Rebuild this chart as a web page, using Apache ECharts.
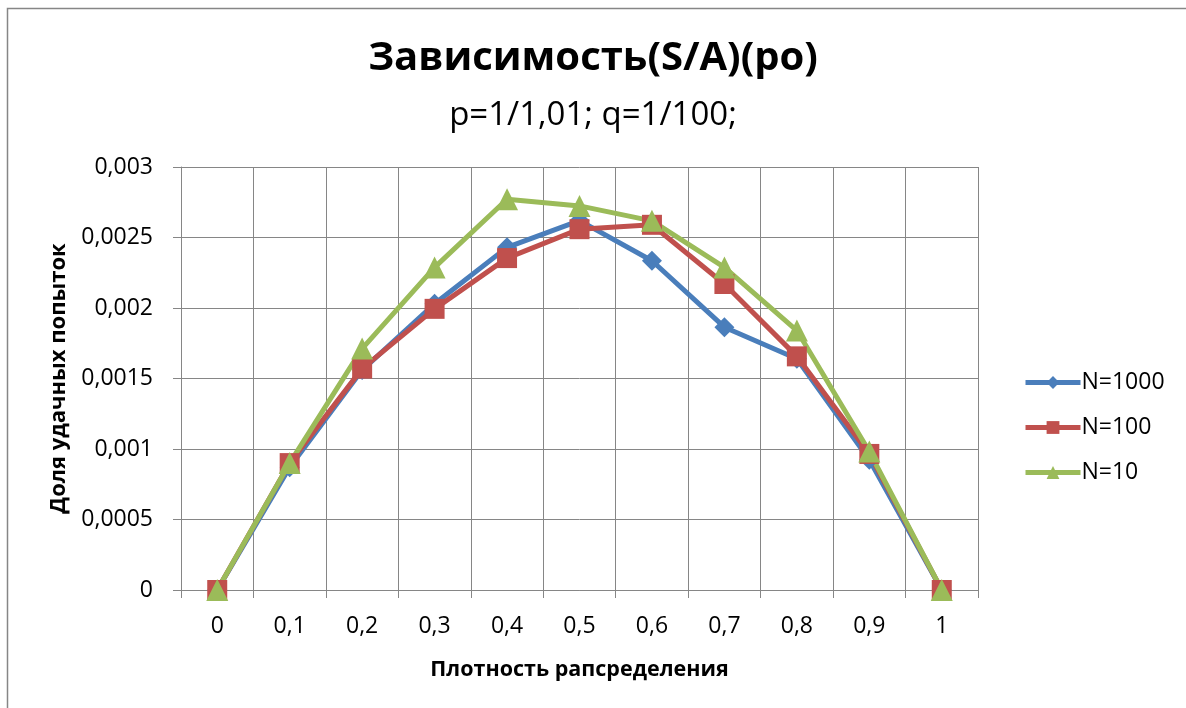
<!DOCTYPE html>
<html>
<head>
<meta charset="utf-8">
<script src="https://cdn.jsdelivr.net/npm/echarts@6/dist/echarts.min.js"></script>
<style>
html,body{margin:0;padding:0;background:#fff;}
#chart{width:1186px;height:708px;}
</style>
</head>
<body>
<div id="chart"></div>
<script>
const categories = ['0','0,1','0,2','0,3','0,4','0,5','0,6','0,7','0,8','0,9','1'];
const seriesNames = ['N=1000','N=100','N=10'];
const n1000 = [0, 0.00087, 0.00156, 0.00203, 0.00243, 0.00262, 0.002335, 0.001864, 0.00164, 0.000923, 0];
const n100  = [0, 0.0009, 0.00157, 0.001994, 0.002354, 0.002559, 0.00259, 0.00217, 0.001657, 0.000965, 0];
const n10   = [0, 0.0009, 0.001712, 0.002288, 0.002771, 0.002724, 0.002618, 0.002288, 0.00184, 0.000982, 0];
const yTicks = [0, 0.0005, 0.001, 0.0015, 0.002, 0.0025, 0.003];

const FONT = 'Open Sans';
const chart = echarts.init(document.getElementById('chart'));
function mk(name, data, color, symbol, size){
  return {
    name: name, type: 'line', data: data,
    symbol: symbol, symbolSize: size,
    lineStyle: {color: color, width: 5},
    itemStyle: {color: color},
    animation: false
  };
}
chart.setOption({
  animation: false,
  backgroundColor: '#fff',
  graphic: [{
    type: 'rect', shape: {x: 7.5, y: 8.5, width: 1300, height: 800},
    style: {fill: 'none', stroke: '#868686', lineWidth: 1.5}, silent: true, z: -10
  }],
  title: [{
    text: 'Зависимость(S/A)(ро)',
    left: 'center', top: 34,
    textStyle: {fontFamily: FONT, fontWeight: 'bold', fontSize: 40, color: '#000'}
  },{
    text: 'p=1/1,01; q=1/100;',
    left: 'center', top: 94,
    textStyle: {fontFamily: FONT, fontWeight: 'normal', fontSize: 33, color: '#000'}
  }],
  legend: {
    orient: 'vertical', left: 1018, top: 366,
    itemWidth: 55, itemHeight: 16, itemGap: 22,
    lineStyle: {width: 5},
    textStyle: {fontFamily: FONT, fontSize: 23, color: '#000', padding: [0,0,0,-4]},
    data: seriesNames
  },
  grid: {left: 181, right: 208, top: 167, bottom: 118, containLabel: false},
  xAxis: {
    type: 'category', data: categories, boundaryGap: true,
    name: 'Плотность рапсределения', nameLocation: 'middle', nameGap: 69,
    nameTextStyle: {fontFamily: FONT, fontWeight: 'bold', fontSize: 21.5, color: '#000'},
    axisLine: {lineStyle: {color: '#868686', width: 1}},
    axisTick: {show: true, length: 8, lineStyle: {color: '#868686'}},
    axisLabel: {fontFamily: FONT, fontSize: 23, color: '#000', margin: 25},
    splitLine: {show: true, lineStyle: {color: '#868686', width: 1}}
  },
  yAxis: {
    type: 'value', min: 0, max: 0.003, interval: 0.0005,
    name: 'Доля удачных попыток', nameLocation: 'middle', nameGap: 111,
    nameTextStyle: {fontFamily: FONT, fontWeight: 'bold', fontSize: 22, color: '#000'},
    axisLine: {show: true, lineStyle: {color: '#868686', width: 1}},
    axisTick: {show: true, length: 8, lineStyle: {color: '#868686'}},
    axisLabel: {fontFamily: FONT, fontSize: 23, color: '#000', margin: 28,
      formatter: v => String(+v.toFixed(4)).replace('.', ',')},
    splitLine: {show: true, lineStyle: {color: '#868686', width: 1}}
  },
  series: [
    mk(seriesNames[0], n1000, '#4A7EBB', 'diamond', 20),
    mk(seriesNames[1], n100, '#C0504D', 'rect', 20),
    mk(seriesNames[2], n10, '#9BBB59', 'triangle', 22)
  ]
});
</script>
</body>
</html>
